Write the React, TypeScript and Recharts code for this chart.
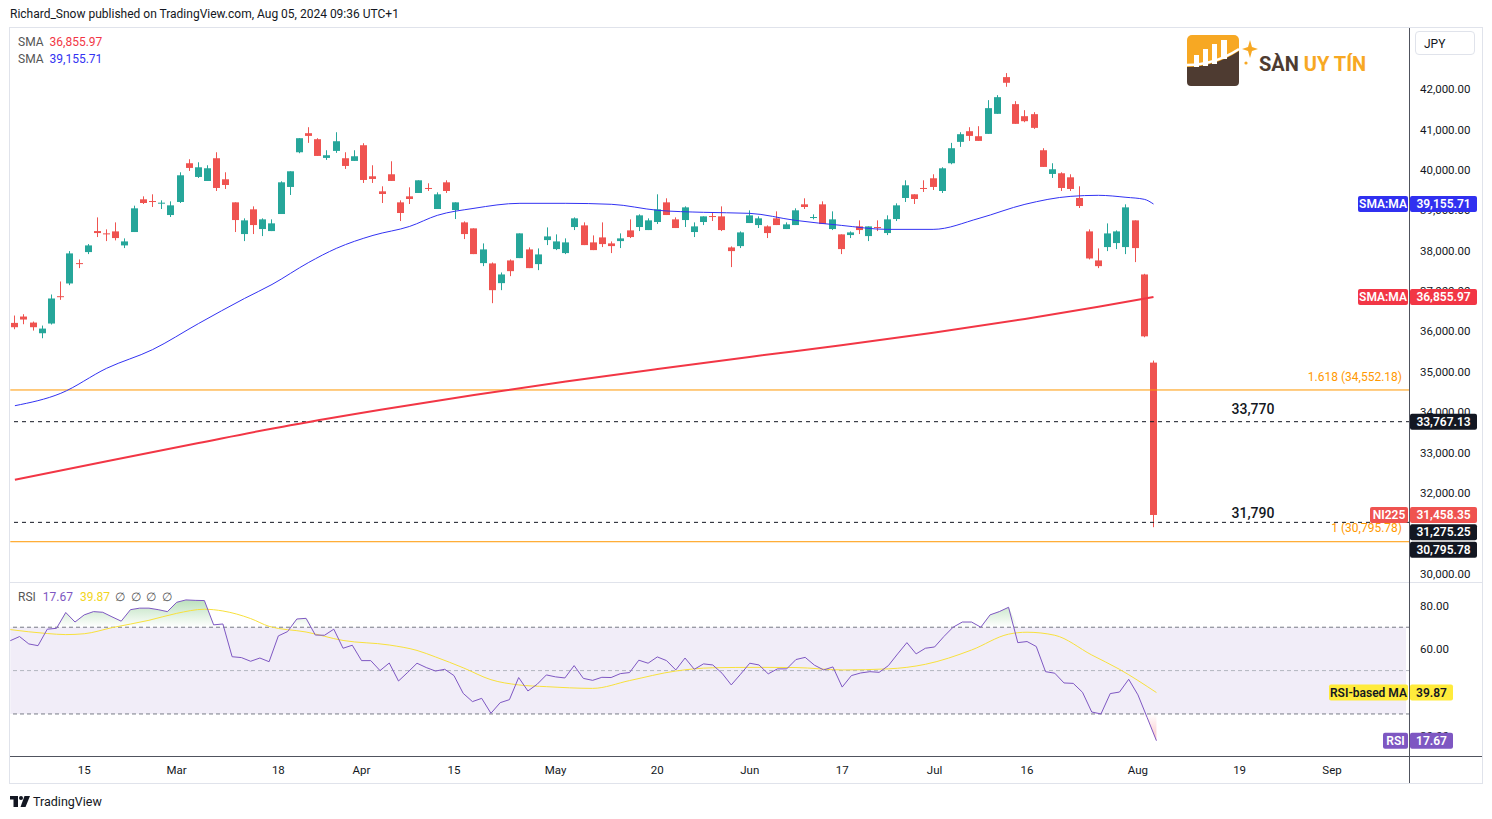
import React from "react";
import {
  ComposedChart,
  Bar,
  Line,
  Area,
  XAxis,
  YAxis,
  ReferenceLine,
  ReferenceArea,
} from "recharts";

const FONT = 'Roboto, "Noto Sans", sans-serif';
const TEXT = "#131722";
const GREEN = "#26a69a";
const RED = "#ef5350";
const SMA_RED = "#f23645";
const SMA_BLUE = "#3232f2";
const RSI_PURPLE = "#7e57c2";
const RSI_YELLOW = "#f7e03c";
const ORANGE = "#ff9800";

// trading days (TSE holidays skipped), then the empty future slots
const febDays = [2, 5, 6, 7, 8, 9, 13, 14, 15, 16, 19, 20, 21, 22, 26, 27, 28, 29];
const marDays = [1, 4, 5, 6, 7, 8, 11, 12, 13, 14, 15, 18, 19, 21, 22, 25, 26, 27, 28, 29];
const aprDays = [1, 2, 3, 4, 5, 8, 9, 10, 11, 12, 15, 16, 17, 18, 19, 22, 23, 24, 25, 26, 30];
const mayDays = [1, 2, 7, 8, 9, 10, 13, 14, 15, 16, 17, 20, 21, 22, 23, 24, 27, 28, 29, 30, 31];
const junDays = [3, 4, 5, 6, 7, 10, 11, 12, 13, 14, 17, 18, 19, 20, 21, 24, 25, 26, 27, 28];
const julDays = [1, 2, 3, 4, 5, 8, 9, 10, 11, 12, 16, 17, 18, 19, 22, 23, 24, 25, 26, 29, 30, 31];
const augDays = [1, 2, 5, 6, 7, 8, 9, 13, 14, 15, 16, 19, 20, 21, 22, 23, 26, 27, 28, 29, 30];
const sepDays = [2, 3, 4, 5, 6, 9, 10, 11, 12];

const tickDates = ["Feb 15", "Mar 1", "Mar 18", "Apr 1", "Apr 15", "May 1", "May 20", "Jun 3", "Jun 17", "Jul 1", "Jul 16", "Aug 1", "Aug 19", "Sep 2"];
const tickTexts = ["15", "Mar", "18", "Apr", "15", "May", "20", "Jun", "17", "Jul", "16", "Aug", "19", "Sep"];

// 31,000 and 40.00 sit fully under the last-value boxes, so they are left out
const priceTicks = [30000, 32000, 33000, 34000, 35000, 36000, 37000, 38000, 39000, 40000, 41000, 42000];
const rsiTicks = [20, 60, 80];

// NI225 daily candles Feb 2 -> Aug 5 2024
const opens = [
  36213, 36370, 36221, 35957, 36197, 36874, 37189, 37693, 37966, 38486,
  38429, 38478, 38131, 38462, 39272, 39230, 39164, 38883, 39206, 40165,
  39826, 39726, 40289, 39768, 39197, 38412, 39024, 38536, 38486, 38908,
  39578, 40437, 40909, 40760, 40297, 40470, 40289, 40223, 40611, 39842,
  39470, 39892, 39197, 39346, 39429, 39553, 39032, 39693, 39007, 38701,
  38553, 37693, 37685, 37197, 37759, 37817, 38032, 37668, 38263, 38040,
  37941, 38586, 38627, 38206, 38329, 38181, 38238, 38503, 38586, 38511,
  38710, 39197, 38776, 38759, 38462, 38710, 38858, 38850, 38081, 38114,
  38685, 38635, 38602, 38801, 38536, 38635, 39148, 38809, 39148, 38536,
  38404, 38387, 38602, 38362, 38586, 38437, 38784, 39305, 39396, 39553,
  39793, 39478, 40165, 40694, 40958, 40834, 40892, 41388, 42297, 41628,
  41330, 41380, 40487, 39900, 39917, 39817, 39305, 38478, 37759, 38090,
  38189, 38090, 38751, 37412, 35230,
];
const highs = [
  36395, 36428, 36246, 36147, 36916, 37238, 37990, 37784, 38164, 38825,
  38528, 38701, 38305, 39115, 39346, 39396, 39247, 39222, 39941, 40264,
  40189, 40115, 40437, 39941, 39197, 38801, 39098, 38801, 38776, 39718,
  39966, 40785, 41057, 40785, 40487, 40933, 40437, 40487, 40661, 40115,
  39594, 40214, 39247, 39569, 39743, 39669, 39445, 39743, 39197, 38726,
  38553, 38181, 37709, 37461, 37784, 38429, 38081, 38057, 38577, 38404,
  38305, 38825, 38701, 38379, 38701, 38230, 38429, 38776, 38900, 38801,
  39396, 39297, 38825, 39098, 38701, 38850, 38949, 39098, 38106, 38478,
  38999, 38850, 38627, 38974, 38701, 39049, 39297, 38900, 39222, 38974,
  38404, 38478, 38751, 38602, 38751, 38875, 39173, 39743, 39396, 39743,
  39892, 40066, 40669, 40933, 41057, 41082, 41727, 41851, 42397, 41702,
  41479, 41429, 40537, 40165, 39941, 39892, 39594, 38528, 38057, 38676,
  38503, 39148, 38751, 37428, 35280,
];
const lows = [
  36056, 36180, 36023, 35833, 36172, 36783, 37147, 37569, 37916, 38338,
  38238, 38255, 38065, 38462, 39156, 39082, 39032, 38834, 39181, 39974,
  39801, 39726, 39478, 39528, 38462, 38238, 38412, 38362, 38486, 38908,
  39379, 40413, 40669, 40346, 40247, 40421, 40024, 40223, 39677, 39677,
  39181, 39727, 38734, 39156, 39429, 39478, 39032, 39429, 38784, 38288,
  37916, 37618, 36701, 37023, 37370, 37817, 37569, 37519, 38139, 38015,
  37916, 38511, 38139, 38015, 38090, 37941, 38065, 38313, 38486, 38511,
  38660, 38883, 38561, 38586, 38338, 38635, 38735, 38486, 37594, 38065,
  38685, 38561, 38313, 38635, 38536, 38635, 39032, 38776, 38660, 38511,
  37916, 38313, 38412, 38238, 38486, 38387, 38734, 39206, 39156, 39454,
  39503, 39429, 40140, 40570, 40718, 40718, 40892, 41388, 42058, 41140,
  41181, 41016, 40074, 39801, 39478, 39478, 39057, 37784, 37569, 37990,
  38040, 37916, 37718, 35858, 31156,
];
const closes = [
  36106, 36296, 36106, 36072, 36817, 36850, 37933, 37668, 38131, 38437,
  38412, 38313, 38230, 39049, 39181, 39206, 39189, 39123, 39867, 40049,
  40065, 40041, 39553, 39627, 38759, 38751, 38635, 38776, 38677, 39693,
  39966, 40785, 40842, 40346, 40363, 40710, 40098, 40338, 39751, 39776,
  39404, 39727, 38933, 39280, 39743, 39528, 39396, 39478, 39197, 38412,
  37916, 38032, 37023, 37412, 37494, 38429, 37569, 37908, 38354, 38230,
  38206, 38801, 38139, 38015, 38164, 38114, 38305, 38338, 38875, 38751,
  39024, 38883, 38561, 39073, 38602, 38850, 38834, 38511, 37990, 38453,
  38875, 38801, 38437, 38635, 38652, 39000, 39082, 38834, 38660, 38776,
  38040, 38453, 38511, 38602, 38561, 38776, 39123, 39619, 39280, 39528,
  39578, 40040, 40537, 40884, 40842, 40718, 41529, 41801, 42157, 41140,
  41206, 41041, 40074, 40016, 39553, 39528, 39106, 37808, 37618, 38428,
  38478, 39073, 38065, 35880, 31458,
];

// moving averages at sample bars: [bar, value]
const sma50Samples = [
  [0, 34163], [5, 34470], [10, 35090], [15, 35552], [20, 36197], [25, 36817], [28, 37164],
  [32, 37710], [35, 38057], [39, 38379], [43, 38602], [46, 38875], [50, 39049], [55, 39173],
  [60, 39173], [65, 39148], [70, 39000], [75, 38950], [80, 38925], [85, 38751], [90, 38627],
  [95, 38528], [100, 38528], [105, 38801], [110, 39148], [115, 39346], [118, 39371],
  [121, 39322], [123, 39272], [124, 39155.71],
];
const sma200Samples = [
  [0, 32328], [10, 32790], [20, 33240], [30, 33680], [40, 34070], [50, 34430], [60, 34760],
  [70, 35070], [80, 35370], [90, 35660], [100, 35970], [110, 36310], [118, 36610], [124, 36855.97],
];

// RSI(14)
const rsiValues = [
  63.8, 65.7, 62.3, 61.5, 69.1, 69.5, 76.8, 72.4, 75.7, 77.2,
  76.9, 74.8, 72.8, 78.1, 78.8, 78.8, 78.1, 77.2, 81.5, 82.6,
  82.4, 82.3, 71.1, 71.5, 56.4, 56.0, 54.3, 55.8, 54.1, 66.0,
  68.0, 73.8, 74.1, 66.4, 66.3, 69.1, 60.3, 61.7, 54.6, 54.6,
  50.0, 53.5, 45.2, 49.2, 53.4, 51.4, 49.8, 50.6, 47.7, 39.5,
  35.7, 37.2, 30.3, 35.2, 36.6, 46.8, 40.6, 43.7, 48.0, 47.1,
  46.6, 52.3, 46.4, 45.5, 46.9, 46.8, 48.6, 49.1, 54.8, 53.4,
  56.3, 54.6, 50.3, 55.8, 50.6, 53.1, 52.6, 48.8, 43.4, 48.3,
  53.4, 52.6, 48.5, 50.8, 50.8, 55.1, 56.1, 52.5, 50.3, 51.7,
  42.4, 47.7, 48.9, 49.5, 49.2, 52.3, 57.7, 62.9, 57.7, 60.3,
  60.9, 65.7, 70.0, 72.4, 72.4, 70.0, 75.7, 77.2, 79.2, 62.9,
  63.4, 61.1, 49.5, 48.8, 44.3, 44.1, 40.0, 30.9, 30.0, 39.4,
  40.1, 46.0, 38.8, 28.3, 17.67,
];
const rsiMaSamples = [
  [0, 68.9], [4, 67.1], [6, 66.6], [8, 67.0], [11, 69.8], [15, 73.2], [18, 76.4], [21, 78.3],
  [23, 77.5], [26, 74.0], [28, 70.4], [32, 67.8], [36, 63.9], [41, 61.8], [44, 59.3], [46, 56.3],
  [49, 51.3], [52, 45.8], [55, 43.4], [58, 42.6], [63, 41.8], [67, 45.4], [72, 49.8], [76, 51.3],
  [81, 51.5], [85, 51.4], [90, 50.3], [95, 50.8], [99, 52.9], [104, 59.5], [108, 66.8],
  [110, 67.7], [113, 66.3], [117, 57.2], [120, 50.6], [124, 39.87],
];

const months: [string, number[]][] = [
  ["Feb", febDays], ["Mar", marDays], ["Apr", aprDays], ["May", mayDays],
  ["Jun", junDays], ["Jul", julDays], ["Aug", augDays], ["Sep", sepDays],
];
const dates = months.flatMap(([m, days]) => days.map((d) => `${m} ${d}`));
const sma50Map = new Map(sma50Samples.map(([i, v]) => [i, v]));
const sma200Map = new Map(sma200Samples.map(([i, v]) => [i, v]));
const rsiMaMap = new Map(rsiMaSamples.map(([i, v]) => [i, v]));
const tickText = new Map(tickDates.map((d, i) => [d, tickTexts[i]]));

const rows = dates.map((date, i) => {
  const has = i < closes.length;
  return {
    date,
    open: has ? opens[i] : null,
    high: has ? highs[i] : null,
    low: has ? lows[i] : null,
    close: has ? closes[i] : null,
    range: has ? [lows[i], highs[i]] : null,
    sma50: sma50Map.get(i) ?? null,
    sma200: sma200Map.get(i) ?? null,
    rsi: has ? rsiValues[i] : null,
    rsiMa: rsiMaMap.get(i) ?? null,
  };
});

const fmt2 = (v: number) =>
  v.toLocaleString("en-US", { minimumFractionDigits: 2, maximumFractionDigits: 2 });

const Candle = (props: any) => {
  const { x, y, width, height, payload } = props;
  if (!payload || payload.high == null) return null;
  const { open, close, high, low } = payload;
  const top = Math.min(y, y + height);
  const h = Math.abs(height);
  const k = high === low ? 0 : h / (high - low);
  const yOf = (v: number) => top + (high - v) * k;
  const color = close >= open ? GREEN : RED;
  const bx = Math.round(x);
  const w = Math.round(width);
  const cx = bx + Math.floor(w / 2) + 0.5;
  const b0 = yOf(Math.max(open, close));
  const b1 = yOf(Math.min(open, close));
  return (
    <g>
      <line x1={cx} x2={cx} y1={top} y2={top + h} stroke={color} strokeWidth={1} />
      <rect x={bx} y={b0} width={w} height={Math.max(1, b1 - b0)} fill={color} />
    </g>
  );
};

// price-scale label boxes, hung on reference lines so they follow the scale
const AxisBadge = (props: any) => {
  const { viewBox, tag, text, bg, color = "#ffffff", dy = 0, valueWidth = 67, tagWidth = 50 } = props;
  if (!viewBox) return null;
  const xr = viewBox.x + viewBox.width;
  const cy = viewBox.y + dy;
  return (
    <g fontFamily={FONT} fontSize={12}>
      {tag && (
        <g>
          <rect x={xr - 2 - tagWidth} y={cy - 8} width={tagWidth} height={16} rx={2} fill={bg} />
          <text x={xr - 2 - tagWidth / 2} y={cy + 4} textAnchor="middle" fill={color} fontWeight={600}>
            {tag}
          </text>
        </g>
      )}
      <rect x={xr} y={cy - 8} width={valueWidth} height={16} rx={2} fill={bg} />
      <text x={xr + valueWidth / 2} y={cy + 4} textAnchor="middle" fill={color} fontWeight={600}>
        {text}
      </text>
    </g>
  );
};

// text notes drawn next to the horizontal levels
const LevelNote = (props: any) => {
  const { viewBox, text, fromRight, fill, size = 12, weight = 400, dy = -8, anchor = "end" } = props;
  if (!viewBox) return null;
  return (
    <text
      x={viewBox.x + viewBox.width - fromRight}
      y={viewBox.y + dy}
      textAnchor={anchor}
      fill={fill}
      fontSize={size}
      fontWeight={weight}
      fontFamily={FONT}
    >
      {text}
    </text>
  );
};

const PriceTick = (props: any) => {
  const { x, y, payload } = props;
  return (
    <text x={x + 10} y={y + 4} fontSize={11.5} fill={TEXT} fontFamily={FONT}>
      {fmt2(payload.value)}
    </text>
  );
};

const TimeTick = (props: any) => {
  const { x, y, payload } = props;
  return (
    <text x={x} y={y + 17} textAnchor="middle" fontSize={11.5} fill={TEXT} fontFamily={FONT}>
      {tickText.get(payload.value) ?? ""}
    </text>
  );
};

const overbought = (d: any) => (d.rsi == null ? null : [70, Math.max(70, d.rsi)]);
const oversold = (d: any) => (d.rsi == null ? null : [Math.min(30, d.rsi), 30]);

const CHART_W = 1482;
const MARGIN = { top: 0, right: 0, bottom: 0, left: 10.3 };
const PRICE_DOMAIN = [29774, 43513];
const RSI_DOMAIN = [10.15, 90.4];

const Logo = () => (
  <svg width={190} height={56} style={{ position: "absolute", left: 1184, top: 33 }}>
    <rect x={3} y={2} width={52} height={44} rx={5} fill="#f7a823" />
    <path d="M3 34 Q30 34 55 18 L55 49 Q55 53 51 53 L7 53 Q3 53 3 49 Z" fill="#4e3b31" />
    <path d="M3 32 Q30 32 55 16" stroke="#ffffff" strokeWidth={2.5} fill="none" />
    <rect x={10} y={22} width={5} height={12} fill="#ffffff" />
    <rect x={19} y={16} width={5} height={17} fill="#ffffff" />
    <rect x={28} y={11} width={5} height={20} fill="#ffffff" />
    <rect x={37} y={7} width={6} height={19} fill="#ffffff" />
    <path d="M66 7 L68 14 L74 16 L68 18 L66 25 L64 18 L58 16 L64 14 Z" fill="#f7a823" />
    <circle cx={62} cy={30} r={1.6} fill="#f7a823" />
    <text x={75} y={38} fontFamily={FONT} fontWeight={700} fontSize={20}>
      <tspan fill="#4e3b31">SÀN </tspan>
      <tspan fill="#f7a823">UY TÍN</tspan>
    </text>
  </svg>
);

const TvLogo = () => (
  <svg width={120} height={20} style={{ position: "absolute", left: 10, top: 792 }}>
    <rect x={0} y={4} width={8} height={3.5} fill={TEXT} />
    <rect x={3.5} y={4} width={4.5} height={11} fill={TEXT} />
    <circle cx={11} cy={6} r={2} fill={TEXT} />
    <path d="M14.5 4 L20 4 L15.5 15 L10.5 15 Z" fill={TEXT} />
    <text x={23} y={14} fontFamily={FONT} fontSize={12.5} fill={TEXT}>
      TradingView
    </text>
  </svg>
);

export default function App() {
  const abs = (s: React.CSSProperties): React.CSSProperties => ({ position: "absolute", ...s });
  return (
    <div
      style={{
        position: "fixed",
        left: 0,
        top: 0,
        width: 1492,
        height: 819,
        background: "#ffffff",
        fontFamily: FONT,
        color: TEXT,
        overflow: "hidden",
      }}
    >
      <div style={abs({ left: 10, top: 7, fontSize: 12, whiteSpace: "nowrap" })}>
        Richard_Snow published on TradingView.com, Aug 05, 2024 09:36 UTC+1
      </div>

      {/* frame */}
      <div style={abs({ left: 9, top: 27, width: 1472, height: 755, border: "1px solid #e0e3eb" })} />

      {/* price pane */}
      <div style={abs({ left: 0, top: 28 })}>
        <ComposedChart width={CHART_W} height={555} data={rows} margin={MARGIN}>
          <XAxis dataKey="date" hide padding={{ left: 0, right: 4 }} />
          <YAxis
            orientation="right"
            width={72}
            type="number"
            domain={PRICE_DOMAIN}
            allowDataOverflow
            ticks={priceTicks}
            interval={0}
            axisLine={false}
            tickLine={false}
            tickSize={0}
            tickMargin={0}
            tick={<PriceTick />}
          />
          <ReferenceLine
            y={34552.18}
            stroke={ORANGE}
            strokeWidth={1}
            label={<LevelNote text="1.618 (34,552.18)" fromRight={8} fill={ORANGE} dy={-9} />}
          />
          <ReferenceLine
            y={30795.78}
            stroke={ORANGE}
            strokeWidth={1}
            label={<LevelNote text="1 (30,795.78)" fromRight={8} fill={ORANGE} dy={-10} />}
          />
          <ReferenceLine
            y={33767.13}
            stroke={TEXT}
            strokeDasharray="4 4"
            label={<LevelNote text="33,770" fromRight={157} fill={TEXT} size={14} weight={500} anchor="middle" dy={-8} />}
          />
          <ReferenceLine
            y={31275.25}
            stroke={TEXT}
            strokeDasharray="4 4"
            label={<LevelNote text="31,790" fromRight={157} fill={TEXT} size={14} weight={500} anchor="middle" dy={-4} />}
          />
          <Bar dataKey="range" barSize={7} shape={(p: any) => <Candle {...p} />} isAnimationActive={false} />
          <Line dataKey="sma200" type="monotone" stroke={SMA_RED} strokeWidth={2} dot={false} connectNulls isAnimationActive={false} />
          <Line dataKey="sma50" type="monotone" stroke={SMA_BLUE} strokeWidth={1} dot={false} connectNulls isAnimationActive={false} />
        </ComposedChart>
      </div>

      {/* price-scale badges, in a layer above the tick labels */}
      <div style={abs({ left: 0, top: 28 })}>
        <ComposedChart width={CHART_W} height={555} data={rows} margin={MARGIN}>
          <XAxis dataKey="date" hide padding={{ left: 0, right: 4 }} />
          <YAxis orientation="right" width={72} type="number" domain={PRICE_DOMAIN} allowDataOverflow tick={false} axisLine={false} tickLine={false} />
          <ReferenceLine y={39155.71} stroke="none" label={<AxisBadge tag="SMA:MA" text="39,155.71" bg="#3030f0" />} />
          <ReferenceLine y={36855.97} stroke="none" label={<AxisBadge tag="SMA:MA" text="36,855.97" bg={SMA_RED} />} />
          <ReferenceLine y={33767.13} stroke="none" label={<AxisBadge text="33,767.13" bg={TEXT} />} />
          <ReferenceLine y={31458.35} stroke="none" label={<AxisBadge tag="NI225" tagWidth={38} text="31,458.35" bg={RED} />} />
          <ReferenceLine y={31275.25} stroke="none" label={<AxisBadge text="31,275.25" bg={TEXT} dy={10} />} />
          <ReferenceLine y={30795.78} stroke="none" label={<AxisBadge text="30,795.78" bg={TEXT} dy={8} />} />
        </ComposedChart>
      </div>

      {/* RSI pane + time scale */}
      <div style={abs({ left: 0, top: 583 })}>
        <ComposedChart width={CHART_W} height={200} data={rows} margin={MARGIN}>
          <defs>
            <linearGradient id="obFill" x1="0" y1="0" x2="0" y2="1">
              <stop offset="0%" stopColor="#4caf50" stopOpacity={0.38} />
              <stop offset="100%" stopColor="#4caf50" stopOpacity={0} />
            </linearGradient>
            <linearGradient id="osFill" x1="0" y1="0" x2="0" y2="1">
              <stop offset="0%" stopColor="#f23645" stopOpacity={0} />
              <stop offset="100%" stopColor="#f23645" stopOpacity={0.3} />
            </linearGradient>
          </defs>
          <XAxis
            dataKey="date"
            height={26}
            padding={{ left: 0, right: 4 }}
            ticks={tickDates}
            interval={0}
            axisLine={false}
            tickLine={false}
            tickSize={0}
            tickMargin={0}
            tick={<TimeTick />}
          />
          <YAxis
            orientation="right"
            width={72}
            type="number"
            domain={RSI_DOMAIN}
            allowDataOverflow
            ticks={rsiTicks}
            interval={0}
            axisLine={false}
            tickLine={false}
            tickSize={0}
            tickMargin={0}
            tick={(p: any) => (
              <text x={p.x + 10} y={p.y + 4} fontSize={11.5} fill={TEXT} fontFamily={FONT}>
                {fmt2(p.payload.value)}
              </text>
            )}
          />
          <ReferenceArea y1={30} y2={70} fill={RSI_PURPLE} fillOpacity={0.11} stroke="none" />
          <ReferenceLine y={70} stroke="#787b86" strokeDasharray="4 3" />
          <ReferenceLine y={50} stroke="#b2b5be" strokeDasharray="4 3" />
          <ReferenceLine y={30} stroke="#787b86" strokeDasharray="4 3" />
          <Area dataKey={overbought} type="linear" stroke="none" fill="url(#obFill)" fillOpacity={1} isAnimationActive={false} />
          <Area dataKey={oversold} type="linear" stroke="none" fill="url(#osFill)" fillOpacity={1} isAnimationActive={false} />
          <Line dataKey="rsiMa" type="monotone" stroke={RSI_YELLOW} strokeWidth={1} dot={false} connectNulls isAnimationActive={false} />
          <Line dataKey="rsi" type="linear" stroke={RSI_PURPLE} strokeWidth={1} dot={false} isAnimationActive={false} />
        </ComposedChart>
      </div>

      {/* RSI-scale badges */}
      <div style={abs({ left: 0, top: 583 })}>
        <ComposedChart width={CHART_W} height={174} data={rows} margin={MARGIN}>
          <XAxis dataKey="date" hide padding={{ left: 0, right: 4 }} />
          <YAxis orientation="right" width={72} type="number" domain={RSI_DOMAIN} allowDataOverflow tick={false} axisLine={false} tickLine={false} />
          <ReferenceLine
            y={39.87}
            stroke="none"
            label={<AxisBadge tag="RSI-based MA" tagWidth={79} text="39.87" valueWidth={43} bg="#ffeb3b" color={TEXT} />}
          />
          <ReferenceLine
            y={17.67}
            stroke="none"
            label={<AxisBadge tag="RSI" tagWidth={25} text="17.67" valueWidth={43} bg={RSI_PURPLE} />}
          />
        </ComposedChart>
      </div>

      {/* pane separators and scale borders */}
      <div style={abs({ left: 10, top: 582, width: 1472, height: 1, background: "#e0e3eb" })} />
      <div style={abs({ left: 10, top: 756, width: 1472, height: 1, background: "#50535e" })} />
      <div style={abs({ left: 1409, top: 28, width: 1, height: 755, background: "#50535e" })} />

      {/* legends */}
      <div style={abs({ left: 18, top: 34, fontSize: 12, lineHeight: "17px" })}>
        <div>
          <span style={{ color: "#555" }}>SMA</span>
          <span style={{ color: SMA_RED, marginLeft: 6 }}>36,855.97</span>
        </div>
        <div>
          <span style={{ color: "#555" }}>SMA</span>
          <span style={{ color: SMA_BLUE, marginLeft: 6 }}>39,155.71</span>
        </div>
      </div>
      <div style={abs({ left: 18, top: 590, fontSize: 12, whiteSpace: "nowrap" })}>
        <span style={{ color: "#555" }}>RSI</span>
        <span style={{ color: RSI_PURPLE, marginLeft: 7 }}>17.67</span>
        <span style={{ color: "#f2d521", marginLeft: 7 }}>39.87</span>
        <span style={{ color: "#555", marginLeft: 5, letterSpacing: 5.5 }}>∅∅∅∅</span>
      </div>

      {/* currency box */}
      <div
        style={abs({
          left: 1415,
          top: 31,
          width: 60,
          height: 24,
          border: "1px solid #e0e3eb",
          borderRadius: 4,
          fontSize: 12,
          lineHeight: "24px",
          paddingLeft: 8,
          boxSizing: "border-box",
        })}
      >
        JPY
      </div>

      <Logo />
      <TvLogo />
    </div>
  );
}
